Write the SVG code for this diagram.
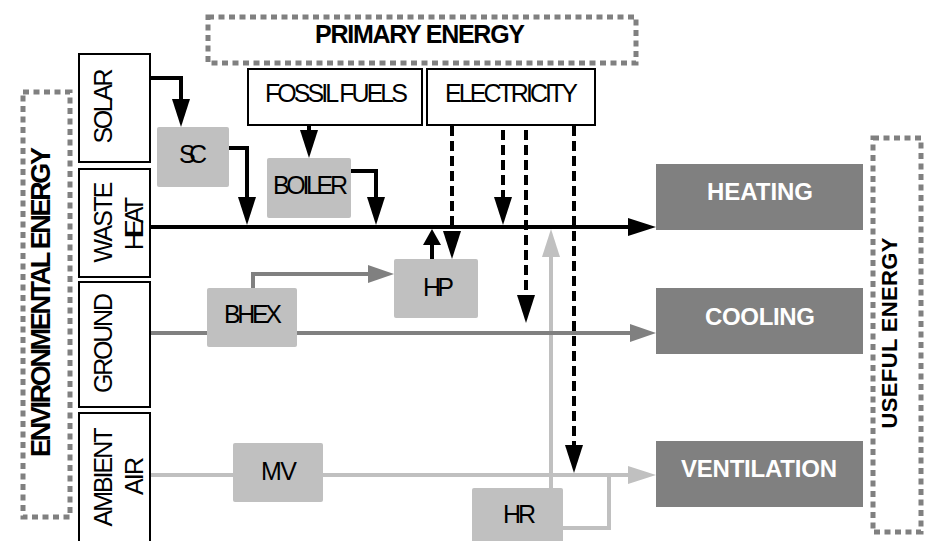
<svg xmlns="http://www.w3.org/2000/svg" width="940" height="541" viewBox="0 0 940 541">
<style>
.frame{fill:none;stroke:#808080;stroke-width:5;stroke-dasharray:6 4.5}
.src{fill:#fff;stroke:#000;stroke-width:2}
.conv{fill:#c0c0c0}
.use{fill:#808080}
.t{font-family:"Liberation Sans",Arial,sans-serif;font-size:25px;fill:#000;text-anchor:middle}
.b{font-weight:bold}
.w{fill:#fff;font-weight:bold;font-size:24px}
.k{fill:none;stroke:#000;stroke-width:4}
.d{fill:none;stroke:#000;stroke-width:4;stroke-dasharray:10 5}
.g{fill:none;stroke:#808080;stroke-width:4}
.l{fill:none;stroke:#c0c0c0;stroke-width:4}
</style>
<defs>
<marker id="ak" markerUnits="userSpaceOnUse" markerWidth="28" markerHeight="18" refX="18" refY="9" orient="auto"><path d="M0,0 L28,9 L0,18 z" fill="#000"/></marker>
<marker id="as" markerUnits="userSpaceOnUse" markerWidth="16" markerHeight="18" refX="6" refY="9" orient="auto"><path d="M0,0 L16,9 L0,18 z" fill="#000"/></marker>
<marker id="ag" markerUnits="userSpaceOnUse" markerWidth="26" markerHeight="18" refX="16" refY="9" orient="auto"><path d="M0,0 L26,9 L0,18 z" fill="#808080"/></marker>
<marker id="al" markerUnits="userSpaceOnUse" markerWidth="28" markerHeight="18" refX="18" refY="9" orient="auto"><path d="M0,0 L28,9 L0,18 z" fill="#c0c0c0"/></marker>
</defs>

<g id="primary-energy">
<rect class="frame" x="208" y="17" width="428" height="46"/>
<text class="t b" x="420" y="43" textLength="210" lengthAdjust="spacing">PRIMARY ENERGY</text>
</g>
<g id="environmental-energy">
<rect class="frame" x="23" y="92" width="47" height="425"/>
<text class="t b" transform="translate(50,302) rotate(-90)" style="font-size:27px" textLength="310" lengthAdjust="spacing">ENVIRONMENTAL ENERGY</text>
</g>
<g id="useful-energy">
<rect class="frame" x="873" y="138" width="48" height="394"/>
<text class="t b" transform="translate(897,333) rotate(-90)" style="font-size:22px" textLength="191" lengthAdjust="spacing">USEFUL ENERGY</text>
</g>

<g id="connectors">
<path class="l" d="M551,488 V239" marker-end="url(#al)"/>
<path class="l" d="M563,528 H609 V475"/>
<path class="l" d="M150,475 H646" marker-end="url(#al)"/>
<path class="g" d="M150,333 H646" marker-end="url(#ag)"/>
<path class="g" d="M253,288 V274 H384" marker-end="url(#ag)"/>
<path class="k" d="M151,78 H181 V117" marker-end="url(#ak)"/>
<path class="k" d="M229,148 H247 V215" marker-end="url(#ak)"/>
<path class="k" d="M309,125 V148" marker-end="url(#ak)"/>
<path class="k" d="M351,171 H376 V215" marker-end="url(#ak)"/>
<path class="k" d="M150,227 H646" marker-end="url(#ak)"/>
<path class="k" d="M432,259 V239" marker-end="url(#as)"/>
<path class="d" d="M452,126 V249" marker-end="url(#ak)"/>
<path class="d" d="M503,130 V215" marker-end="url(#ak)"/>
<path class="d" d="M526,130 V313" marker-end="url(#ak)"/>
<path class="d" d="M574,126 V463" marker-end="url(#ak)"/>
</g>

<g id="fossil-fuels">
<rect class="src" x="248" y="69" width="174" height="56"/>
<text class="t" x="336.5" y="102" textLength="143" lengthAdjust="spacing">FOSSIL FUELS</text>
</g>
<g id="electricity">
<rect class="src" x="427" y="69" width="168" height="56"/>
<text class="t" x="511.5" y="102" textLength="133" lengthAdjust="spacing">ELECTRICITY</text>
</g>

<g id="solar">
<rect class="src" x="79" y="54" width="71" height="108"/>
<text class="t" transform="translate(112,106) rotate(-90)" textLength="75" lengthAdjust="spacing">SOLAR</text>
</g>
<g id="waste-heat">
<rect class="src" x="79" y="169" width="71" height="108"/>
<text class="t" transform="translate(112,222) rotate(-90)" textLength="81" lengthAdjust="spacing">WASTE</text>
<text class="t" transform="translate(143,223.5) rotate(-90)" textLength="53" lengthAdjust="spacing">HEAT</text>
</g>
<g id="ground">
<rect class="src" x="79" y="282" width="71" height="125"/>
<text class="t" transform="translate(112,343) rotate(-90)" textLength="100" lengthAdjust="spacing">GROUND</text>
</g>
<g id="ambient-air">
<rect class="src" x="79" y="413" width="71" height="140"/>
<text class="t" transform="translate(112,477) rotate(-90)" textLength="99" lengthAdjust="spacing">AMBIENT</text>
<text class="t" transform="translate(143,476) rotate(-90)" textLength="38" lengthAdjust="spacing">AIR</text>
</g>

<g id="sc">
<rect class="conv" x="157" y="127" width="72" height="60" rx="2"/>
<text class="t" x="193" y="163" textLength="28" lengthAdjust="spacing">SC</text>
</g>
<g id="boiler">
<rect class="conv" x="267" y="158" width="84" height="60" rx="2"/>
<text class="t" x="310.5" y="194" textLength="75" lengthAdjust="spacing">BOILER</text>
</g>
<g id="hp">
<rect class="conv" x="394" y="259" width="84" height="59" rx="2"/>
<text class="t" x="438.5" y="296" textLength="31" lengthAdjust="spacing">HP</text>
</g>
<g id="bhex">
<rect class="conv" x="207" y="288" width="90" height="59" rx="2"/>
<text class="t" x="253" y="323" textLength="58" lengthAdjust="spacing">BHEX</text>
</g>
<g id="mv">
<rect class="conv" x="233" y="443" width="90" height="59" rx="2"/>
<text class="t" x="279" y="480" textLength="36" lengthAdjust="spacing">MV</text>
</g>
<g id="hr">
<rect class="conv" x="472" y="488" width="91" height="60" rx="2"/>
<text class="t" x="519.5" y="523" textLength="33" lengthAdjust="spacing">HR</text>
</g>

<g id="heating">
<rect class="use" x="656" y="164" width="207" height="66"/>
<text class="t w" x="760" y="200" textLength="106" lengthAdjust="spacing">HEATING</text>
</g>
<g id="cooling">
<rect class="use" x="656" y="288" width="207" height="66"/>
<text class="t w" x="760" y="325" textLength="110" lengthAdjust="spacing">COOLING</text>
</g>
<g id="ventilation">
<rect class="use" x="656" y="441" width="207" height="66"/>
<text class="t w" x="759" y="477" textLength="156" lengthAdjust="spacing">VENTILATION</text>
</g>
</svg>
